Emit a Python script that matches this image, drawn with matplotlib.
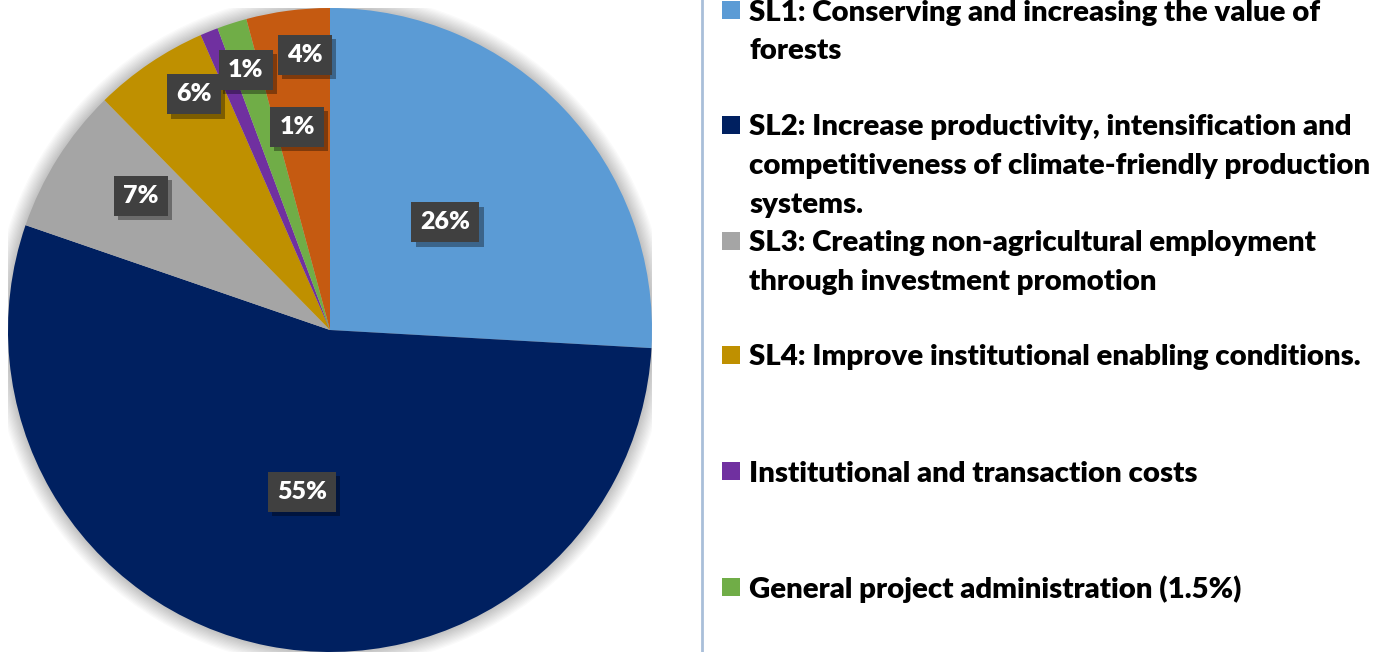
import numpy as np
import matplotlib.pyplot as plt
import matplotlib.patheffects as pe
from matplotlib.patches import Circle, Rectangle

# slice shares (%), clockwise from 12 o'clock
shares = [26.0, 54.6, 7.4, 5.8, 0.9, 1.5, 4.2]
pct_labels = ["26%", "55%", "7%", "6%", "1%", "1%", "4%"]
colours = ["#5B9BD5", "#002060", "#A5A5A5", "#BF9000", "#7030A0", "#70AD47", "#C55A11"]

legend_labels = [
    "SL1: Conserving and increasing the value of\nforests",
    "SL2: Increase productivity, intensification and\ncompetitiveness of climate-friendly production\nsystems.",
    "SL3: Creating non-agricultural employment\nthrough investment promotion",
    "SL4: Improve institutional enabling conditions.",
    "Institutional and transaction costs",
    "General project administration (1.5%)",
]

# label placement (radius fraction, angle in degrees, matplotlib convention)
label_pos = [(0.49, 43.0), (0.51, -99.8), (0.72, 144.7), (0.845, 120.0),
             (0.64, 99.2), (0.85, 107.9), (0.857, 95.2)]
# legend first-line centres in pixels from top
legend_y = [10, 125, 241, 355, 471, 587]

W, H = 1375, 652
fig = plt.figure(figsize=(W / 100, H / 100), dpi=100)
font = "Lato"

ax = fig.add_axes([8 / W, 0, 644 / W, 644 / H])

# soft glow around the pie
for k in range(12):
    ax.add_patch(Circle((0, 0), 1.0 + 0.004 * (12 - k), color="#000000",
                        alpha=0.018, lw=0, zorder=0))

wedges, _ = ax.pie(shares, colors=colours, startangle=90, counterclock=False,
                   radius=1.0, wedgeprops=dict(linewidth=0))
for w in wedges:
    w.set_zorder(2)
ax.set_xlim(-1, 1)
ax.set_ylim(-1, 1)
ax.set_aspect("equal")
ax.axis("off")

for lab, (r, ang) in zip(pct_labels, label_pos):
    a = np.radians(ang)
    t = ax.text(r * np.cos(a), r * np.sin(a), lab, ha="center", va="center",
                color="white", fontsize=18, fontweight="heavy", family=font,
                zorder=5,
                bbox=dict(boxstyle="square,pad=0.36", fc="#404040", ec="none"))
    t.get_bbox_patch().set_path_effects(
        [pe.SimplePatchShadow(offset=(3, -3), shadow_rgbFace="#000000", alpha=0.35),
         pe.Normal()])

# separator line
fig.add_artist(plt.Line2D([702 / W, 702 / W], [0, 1], color="#A9BFD9", lw=2))

# legend
fs = 20
probe = fig.text(0, 0, "competitiveness of climate-friendly production",
                 fontsize=fs, fontweight="heavy", family=font)
fig.canvas.draw()
wpx = probe.get_window_extent().width
probe.remove()
fs = fs * 623 / wpx
line_px = 38.5

for lab, col, yc in zip(legend_labels, colours, legend_y):
    fig.add_artist(Rectangle((722 / W, 1 - (yc + 9) / H), 18 / W, 18 / H,
                             transform=fig.transFigure, color=col, lw=0))
    for i, line in enumerate(lab.split("\n")):
        fig.text(749 / W, 1 - (yc + i * line_px) / H, line, ha="left",
                 va="center_baseline", fontsize=fs, fontweight="heavy",
                 family=font, color="black")

fig.savefig("out.png", dpi=100)
